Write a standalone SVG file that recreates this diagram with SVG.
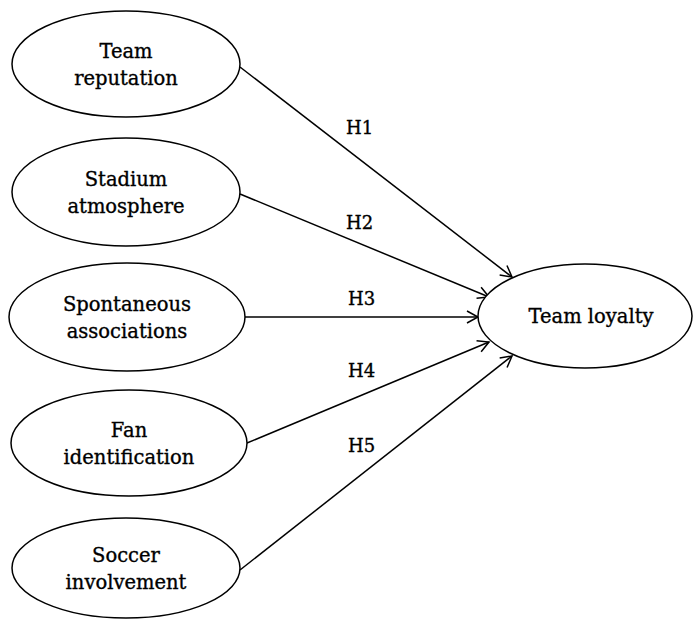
<svg xmlns="http://www.w3.org/2000/svg" width="693" height="619" viewBox="0 0 693 619">
<style>
.n ellipse{fill:#fff;stroke:#000;stroke-width:1.5}
text{font-family:"DejaVu Serif","Liberation Serif",serif;font-size:19.5px;fill:#000;stroke:#000;stroke-width:0.35;text-anchor:middle}
.lbl{font-size:18px;text-anchor:start}
.c line{stroke:#000;stroke-width:1.5;marker-end:url(#a)}
</style>
<defs>
<marker id="a" markerWidth="16" markerHeight="16" refX="13" refY="8" orient="auto" markerUnits="userSpaceOnUse">
<path d="M2,2 L13,8 L2,14" fill="none" stroke="#000" stroke-width="1.5"/>
</marker>
</defs>
<g class="c">
<line x1="240" y1="67" x2="512" y2="277"/>
<line x1="240" y1="194" x2="489" y2="297"/>
<line x1="245" y1="317" x2="478" y2="317"/>
<line x1="247" y1="443" x2="489" y2="342"/>
<line x1="240" y1="570" x2="512" y2="356"/>
</g>
<g id="team-reputation" class="n"><ellipse cx="126" cy="64" rx="114" ry="53"/><text x="126" y="58">Team</text><text x="126" y="85">reputation</text></g>
<g id="stadium-atmosphere" class="n"><ellipse cx="126" cy="192" rx="114" ry="54"/><text x="126" y="186">Stadium</text><text x="126" y="213">atmosphere</text></g>
<g id="spontaneous-associations" class="n"><ellipse cx="127" cy="317" rx="118" ry="54"/><text x="127" y="311">Spontaneous</text><text x="127" y="338">associations</text></g>
<g id="fan-identification" class="n"><ellipse cx="129" cy="443" rx="118" ry="53"/><text x="129" y="437">Fan</text><text x="129" y="464">identification</text></g>
<g id="soccer-involvement" class="n"><ellipse cx="126" cy="568" rx="114" ry="50"/><text x="126" y="562">Soccer</text><text x="126" y="589">involvement</text></g>
<g id="team-loyalty" class="n"><ellipse cx="585" cy="316" rx="107" ry="52"/><text x="591" y="323">Team loyalty</text></g>
<g id="labels">
<text class="lbl" x="346" y="134">H1</text>
<text class="lbl" x="346" y="229">H2</text>
<text class="lbl" x="348" y="305">H3</text>
<text class="lbl" x="348" y="377">H4</text>
<text class="lbl" x="348" y="452">H5</text>
</g>
</svg>
